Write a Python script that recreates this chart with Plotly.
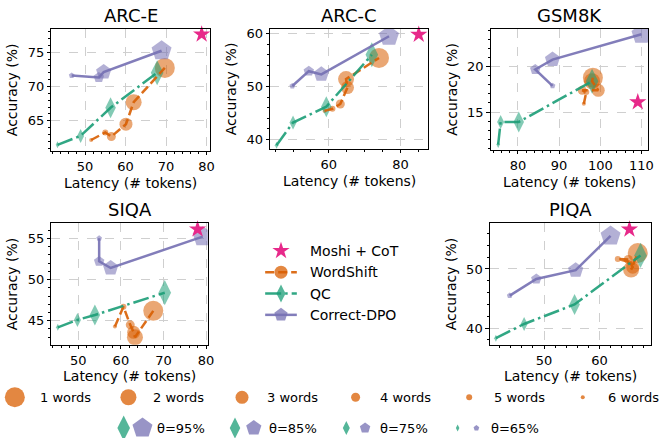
import plotly.graph_objects as go

W, H = 662, 438
FONT = "DejaVu Sans"

# ---------------- data ----------------
datasets = ["ARC-E", "ARC-C", "GSM8K", "SIQA", "PIQA"]

# Moshi + CoT reference point (latency, accuracy) per dataset
moshi_lat = [78.8, 85.1, 109.1, 78.0, 65.4]
moshi_acc = [77.6, 59.8, 16.1, 56.1, 56.7]

# WordShift (1 words .. 6 words)
word_counts = [1, 2, 3, 4, 5, 6]
arce_ws_lat = [69.7, 62.0, 60.1, 56.5, 55.0, 51.5]
arce_ws_acc = [72.7, 67.7, 64.5, 62.7, 63.3, 62.2]
arcc_ws_lat = [74.0, 64.8, 65.2, 63.2, 61.0, 58.8]
arcc_ws_acc = [55.4, 51.4, 49.8, 46.7, 45.8, 45.4]
gsm_ws_lat = [98.2, 98.0, 99.5, 95.6, 96.6, 96.0]
gsm_ws_acc = [18.8, 18.4, 17.4, 17.4, 17.2, 15.9]
siqa_ws_lat = [67.6, 63.3, 63.0, 62.2, 60.6, 58.6]
siqa_ws_acc = [46.2, 43.0, 43.6, 44.5, 46.7, 44.3]
piqa_ws_lat = [66.9, 65.7, 66.0, 65.2, 63.3, 65.3]
piqa_ws_acc = [52.7, 49.9, 50.3, 51.6, 51.7, 51.2]

# QC and Correct-DPO (theta = 95%, 85%, 75%, 65%)
thetas = [95, 85, 75, 65]
arce_qc_lat = [67.8, 56.3, 48.9, 43.2]
arce_qc_acc = [72.0, 66.9, 62.8, 61.5]
arcc_qc_lat = [72.0, 59.3, 50.0, 45.4]
arcc_qc_acc = [56.0, 46.2, 43.2, 38.9]
gsm_qc_lat = [98.0, 80.2, 75.8, 75.2]
gsm_qc_acc = [18.4, 13.9, 13.9, 11.4]
siqa_qc_lat = [70.3, 53.9, 49.8, 45.2]
siqa_qc_acc = [48.4, 45.7, 45.1, 44.2]
piqa_qc_lat = [67.4, 55.5, 46.4, 41.3]
piqa_qc_acc = [52.3, 44.0, 40.7, 38.3]

arce_dpo_lat = [68.9, 54.6, 53.4, 46.7]
arce_dpo_acc = [75.2, 72.1, 71.3, 71.6]
arcc_dpo_lat = [76.8, 57.9, 54.4, 49.8]
arcc_dpo_acc = [59.5, 52.3, 52.9, 50.1]
gsm_dpo_lat = [110.0, 88.4, 84.2, 88.4]
gsm_dpo_acc = [23.6, 20.8, 19.7, 17.9]
siqa_dpo_lat = [79.2, 57.6, 54.9, 54.9]
siqa_dpo_acc = [55.2, 51.4, 52.2, 55.0]
piqa_dpo_lat = [62.0, 55.7, 48.6, 43.8]
piqa_dpo_acc = [55.6, 49.8, 48.3, 45.5]

# tick labels per panel
arce_xticks, arce_yticks = [50, 60, 70, 80], [65, 70, 75]
arcc_xticks, arcc_yticks = [60, 80], [40, 50, 60]
gsm_xticks, gsm_yticks = [80, 90, 100, 110], [15, 20]
siqa_xticks, siqa_yticks = [50, 60, 70, 80], [45, 50, 55]
piqa_xticks, piqa_yticks = [50, 60], [40, 50]

ws_lat = [arce_ws_lat, arcc_ws_lat, gsm_ws_lat, siqa_ws_lat, piqa_ws_lat]
ws_acc = [arce_ws_acc, arcc_ws_acc, gsm_ws_acc, siqa_ws_acc, piqa_ws_acc]
qc_lat = [arce_qc_lat, arcc_qc_lat, gsm_qc_lat, siqa_qc_lat, piqa_qc_lat]
qc_acc = [arce_qc_acc, arcc_qc_acc, gsm_qc_acc, siqa_qc_acc, piqa_qc_acc]
dpo_lat = [arce_dpo_lat, arcc_dpo_lat, gsm_dpo_lat, siqa_dpo_lat, piqa_dpo_lat]
dpo_acc = [arce_dpo_acc, arcc_dpo_acc, gsm_dpo_acc, siqa_dpo_acc, piqa_dpo_acc]
xticks = [arce_xticks, arcc_xticks, gsm_xticks, siqa_xticks, piqa_xticks]
yticks = [arce_yticks, arcc_yticks, gsm_yticks, siqa_yticks, piqa_yticks]

# ---------------- style ----------------
C_STAR = "#e7298a"
C_WS = "#d95f02"
C_QC = "#1b9e77"
C_DPO = "#7570b3"
MK_ALPHA = 0.55
LW = 2.5
DASH_WS = "9px,4px"
DASH_QC = "16px,4px,2.5px,4px"

circle_sizes = [20, 16, 13, 9, 6, 4]
diamond_sizes = [18, 15, 10, 5]
pentagon_sizes = [21, 16, 11, 6]

# panel placement in pixels: (x0, x1, ytop, ybottom)
panel_px = [(52, 212, 26, 149), (273, 433, 26, 147), (496, 655, 26, 148),
            (52, 210, 222, 344), (495, 658, 222, 344)]
panel_xrange = [[41.7, 80.8], [43.6, 87.8], [73.4, 111.6], [43.7, 80.4], [40.2, 69.3]]
panel_yrange = [[60.6, 78.4], [38.2, 60.9], [10.8, 24.2], [42.1, 56.8], [37.2, 57.7]]
panel_xminor = [2, 5, 2, 2, 2]
panel_yminor = [1, 2, 1, 1, 2]

fig = go.Figure()
layout = dict(
    width=W, height=H, margin=dict(l=0, r=0, t=0, b=0),
    paper_bgcolor="white", plot_bgcolor="rgba(0,0,0,0)", showlegend=False,
    font=dict(family=FONT, size=13, color="black"),
)
annotations = []

for i, name in enumerate(datasets):
    k = "" if i == 0 else str(i + 1)
    xa, ya = "x" + k, "y" + k
    x0, x1, yt, yb = panel_px[i]
    common = dict(
        showline=True, mirror=True, linecolor="black", linewidth=1,
        ticks="outside", ticklen=3.5, tickwidth=1, tickcolor="black",
        showgrid=True, gridcolor="#cfcfcf", griddash="dash", gridwidth=0.8,
        zeroline=False, tickfont=dict(size=13, family=FONT, color="black"),
        tickmode="array",
    )
    layout["xaxis" + k] = dict(
        common, domain=[x0 / W, x1 / W], range=panel_xrange[i], anchor=ya,
        tickvals=xticks[i], ticktext=[str(v) for v in xticks[i]],
        minor=dict(tickmode="linear", dtick=panel_xminor[i], tick0=0, ticks="outside", ticklen=2,
                   tickcolor="black", showgrid=False),
    )
    layout["yaxis" + k] = dict(
        common, domain=[1 - yb / H, 1 - yt / H], range=panel_yrange[i], anchor=xa,
        tickvals=yticks[i], ticktext=[str(v) for v in yticks[i]],
        minor=dict(tickmode="linear", dtick=panel_yminor[i], tick0=0, ticks="outside", ticklen=2,
                   tickcolor="black", showgrid=False),
        title=dict(text="Accuracy (%)", font=dict(size=14, family=FONT), standoff=6),
    )
    annotations.append(dict(
        text=name, xref="paper", yref="paper", x=(x0 + x1) / 2 / W, y=1 - yt / H,
        xanchor="center", yanchor="bottom", yshift=1, showarrow=False,
        font=dict(size=18, family=FONT, color="black")))
    annotations.append(dict(
        text="Latency (# tokens)", xref="paper", yref="paper", x=(x0 + x1) / 2 / W,
        y=1 - (yb + 32) / H, xanchor="center", yanchor="middle", showarrow=False,
        font=dict(size=14, family=FONT, color="black")))

    # markers (semi-transparent), then lines on top
    fig.add_trace(go.Scatter(x=ws_lat[i], y=ws_acc[i], xaxis=xa, yaxis=ya, mode="markers",
                             marker=dict(symbol="circle", size=circle_sizes, color=C_WS,
                                         opacity=MK_ALPHA, line=dict(width=0))))
    fig.add_trace(go.Scatter(x=qc_lat[i], y=qc_acc[i], xaxis=xa, yaxis=ya, mode="markers",
                             marker=dict(symbol="diamond-tall", size=diamond_sizes, color=C_QC,
                                         opacity=MK_ALPHA, line=dict(width=0))))
    fig.add_trace(go.Scatter(x=dpo_lat[i], y=dpo_acc[i], xaxis=xa, yaxis=ya, mode="markers",
                             marker=dict(symbol="pentagon", size=pentagon_sizes, color=C_DPO,
                                         opacity=MK_ALPHA, line=dict(width=0))))
    fig.add_trace(go.Scatter(x=ws_lat[i][::-1], y=ws_acc[i][::-1], xaxis=xa, yaxis=ya, mode="lines",
                             line=dict(color=C_WS, width=LW, dash=DASH_WS), opacity=0.9))
    fig.add_trace(go.Scatter(x=qc_lat[i][::-1], y=qc_acc[i][::-1], xaxis=xa, yaxis=ya, mode="lines",
                             line=dict(color=C_QC, width=LW, dash=DASH_QC), opacity=0.9))
    fig.add_trace(go.Scatter(x=dpo_lat[i][::-1], y=dpo_acc[i][::-1], xaxis=xa, yaxis=ya, mode="lines",
                             line=dict(color=C_DPO, width=LW), opacity=0.9))
    fig.add_trace(go.Scatter(x=[moshi_lat[i]], y=[moshi_acc[i]], xaxis=xa, yaxis=ya, mode="markers",
                             cliponaxis=False,
                             marker=dict(symbol="star", size=13, color=C_STAR, line=dict(width=0))))

# ---------------- legends (overlay axis in pixel units) ----------------
layout["xaxis6"] = dict(domain=[0, 1], range=[0, W], visible=False, anchor="y6", fixedrange=True)
layout["yaxis6"] = dict(domain=[0, 1], range=[H, 0], visible=False, anchor="x6", fixedrange=True)

legend_labels = ["Moshi + CoT", "WordShift", "QC", "Correct-DPO"]
leg_colors = [C_STAR, C_WS, C_QC, C_DPO]
leg_symbols = ["star", "circle", "diamond-tall", "pentagon"]
leg_msize = [13, 13, 13, 14]
leg_dash = [None, DASH_WS, DASH_QC, "solid"]
leg_x0, leg_y0, leg_dy = 284, 249.5, 21.5
for j, lab in enumerate(legend_labels):
    yy = leg_y0 + j * leg_dy
    if leg_dash[j] is not None:
        fig.add_trace(go.Scatter(x=[leg_x0 - 16, leg_x0 + 16], y=[yy, yy], xaxis="x6", yaxis="y6",
                                 mode="lines", cliponaxis=False,
                                 line=dict(color=leg_colors[j], width=LW, dash=leg_dash[j]), opacity=0.9))
    fig.add_trace(go.Scatter(x=[leg_x0], y=[yy], xaxis="x6", yaxis="y6", mode="markers", cliponaxis=False,
                             marker=dict(symbol=leg_symbols[j], size=leg_msize[j], color=leg_colors[j],
                                         opacity=1 if j == 0 else 0.75, line=dict(width=0))))
    annotations.append(dict(text=lab, xref="x6", yref="y6", x=leg_x0 + 27, y=yy, xanchor="left",
                            yanchor="middle", showarrow=False,
                            font=dict(size=14, family=FONT, color="black")))

# size legend row 1: words
row1_y, row1_x0, row1_dx = 397, 15, 114.8
for j, w in enumerate(word_counts):
    cx = row1_x0 + j * row1_dx
    fig.add_trace(go.Scatter(x=[cx], y=[row1_y], xaxis="x6", yaxis="y6", mode="markers", cliponaxis=False,
                             marker=dict(symbol="circle", size=circle_sizes[j], color=C_WS,
                                         opacity=0.75, line=dict(width=0))))
    annotations.append(dict(text=f"{w} words", xref="x6", yref="y6", x=cx + 23, y=row1_y,
                            xanchor="left", yanchor="middle", showarrow=False,
                            font=dict(size=13, family=FONT, color="black")))

# size legend row 2: theta
row2_y, row2_x0, row2_dx = 428, 125, 112.5
for j, t in enumerate(thetas):
    dx = row2_x0 + j * row2_dx
    fig.add_trace(go.Scatter(x=[dx], y=[row2_y], xaxis="x6", yaxis="y6", mode="markers", cliponaxis=False,
                             marker=dict(symbol="diamond-tall", size=diamond_sizes[j], color=C_QC,
                                         opacity=0.75, line=dict(width=0))))
    fig.add_trace(go.Scatter(x=[dx + 19], y=[row2_y], xaxis="x6", yaxis="y6", mode="markers", cliponaxis=False,
                             marker=dict(symbol="pentagon", size=pentagon_sizes[j], color=C_DPO,
                                         opacity=0.75, line=dict(width=0))))
    annotations.append(dict(text=f"θ={t}%", xref="x6", yref="y6", x=dx + 32, y=row2_y,
                            xanchor="left", yanchor="middle", showarrow=False,
                            font=dict(size=13, family=FONT, color="black")))

layout["annotations"] = annotations
fig.update_layout(**layout)
fig.write_html("out.html")
